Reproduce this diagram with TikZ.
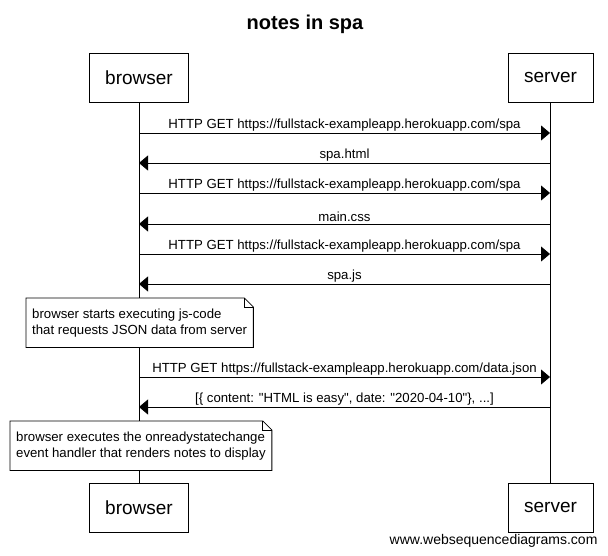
\documentclass[tikz,border=0pt]{standalone}
\usepackage{fontspec}
\setmainfont{Liberation Sans}
\usetikzlibrary{arrows.meta, positioning, calc}

\begin{document}
\begin{tikzpicture}[
    x=1pt, y=-1pt,
    actor/.style={rectangle, draw, line width=0.8pt, minimum height=49pt, inner xsep=16pt, font=\fontsize{19}{22}\selectfont},
    life/.style={line width=0.8pt},
    msg/.style={line width=0.8pt, -{Triangle[length=9pt,width=15pt]}},
    lbl/.style={font=\fontsize{13.2}{15}\selectfont, inner sep=1.5pt},
    note/.style={align=left, inner xsep=6pt, minimum height=49pt, font=\fontsize{13.2}{16}\selectfont}
]
\useasboundingbox (0,0) rectangle (608,556);

% title and participants
\node[font=\fontsize{20}{24}\bfseries] (title) at (305,24) {notes in spa};
\node[actor] (bt) at (139,77.5) {browser};
\node[actor] (st) at (550.5,77.5) {server};
\node[actor] (bb) at (139,507.5) {browser};
\node[actor] (sb) at (550.5,507.5) {server};

\draw[life] (bt) -- (bb);
\draw[life] (st) -- (sb);

% message points on the lifelines
\foreach \i/\y in {1/133,2/163,3/193,4/224,5/254,6/284,7/377,8/407} {
    \coordinate (b\i) at (139,\y);
    \coordinate (s\i) at (550,\y);
}

\draw[msg] (b1) -- (s1) node[lbl, midway, above] {HTTP GET https://fullstack-exampleapp.herokuapp.com/spa};
\draw[msg] (s2) -- (b2) node[lbl, midway, above] {spa.html};
\draw[msg] (b3) -- (s3) node[lbl, midway, above] {HTTP GET https://fullstack-exampleapp.herokuapp.com/spa};
\draw[msg] (s4) -- (b4) node[lbl, midway, above] {main.css};
\draw[msg] (b5) -- (s5) node[lbl, midway, above] {HTTP GET https://fullstack-exampleapp.herokuapp.com/spa};
\draw[msg] (s6) -- (b6) node[lbl, midway, above] {spa.js};
\draw[msg] (b7) -- (s7) node[lbl, midway, above] {HTTP GET https://fullstack-exampleapp.herokuapp.com/data.json};
\draw[msg] (s8) -- (b8) node[lbl, midway, above] {[\{ content: \textquotedbl HTML is easy\textquotedbl, date: \textquotedbl 2020-04-10\textquotedbl\}, ...]};

% notes
\node[note, anchor=north west, fill=white] (n1) at (26,298) {browser starts executing js-code\\that requests JSON data from server};
\node[note, anchor=north west, fill=white] (n2) at (10,421) {browser executes the onreadystatechange\\event handler that renders notes to display};
\foreach \n in {n1,n2} {
    \draw[line width=0.8pt] (\n.north west) -- ($(\n.north east)+(-9pt,0pt)$) -- ($(\n.north east)+(0pt,-9pt)$)
        -- (\n.south east) -- (\n.south west) -- cycle;
    \draw[line width=0.8pt] ($(\n.north east)+(-9pt,0pt)$) -- ($(\n.north east)+(-9pt,-9pt)$) -- ($(\n.north east)+(0pt,-9pt)$);
}

\node[font=\fontsize{14}{16}\selectfont, anchor=east] (credit) at (601,541) {www.websequencediagrams.com};
\end{tikzpicture}
\end{document}
